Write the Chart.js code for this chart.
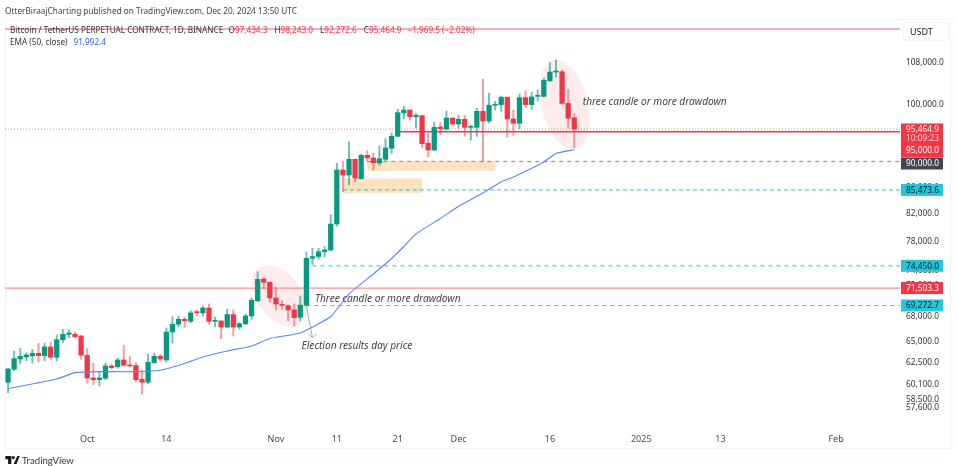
<!DOCTYPE html>
<html>
<head>
<meta charset="utf-8">
<title>BTCUSDT perpetual, 1D</title>
<script src="https://cdn.jsdelivr.net/npm/chart.js@4"></script>
<style>
  html, body { margin: 0; padding: 0; background: #fff; }
  #wrap { position: relative; width: 958px; height: 466px; overflow: hidden; font-family: "Noto Sans", sans-serif; color: #333; }
  #panel { position: absolute; left: 5px; top: 19px; width: 944px; height: 428px; border: 1px solid #f0f3fa; }
  canvas { position: absolute; left: 0; top: 0; }
  .txt { position: absolute; white-space: nowrap; line-height: 12px; }
  #published { left: 5px; top: 5px; font-size: 8.25px; color: #444; }
  #legend1 { left: 10px; top: 24px; font-size: 8.2px; color: #333; }
  #legend2 { left: 10px; top: 36px; font-size: 8.2px; color: #333; }
  #legend1 b { font-weight: normal; color: #f23645; margin-right: 6px; }
  #legend1 i { font-style: normal; margin-left: 1px; }
  #legend2 b { font-weight: normal; color: #2962ff; margin-left: 6px; }
  #unit { position: absolute; left: 903px; top: 22px; width: 44px; height: 17px; border: 1px solid #f0f3fa; border-radius: 3px; font-size: 9px; line-height: 17px; text-indent: 6px; color: #222; }
  #brand { left: 22px; top: 455px; font-size: 9.6px; font-family: Lato, sans-serif; color: #333; }
  #logo { position: absolute; left: 5px; top: 456px; }
</style>
</head>
<body>
<div id="wrap">
  <div id="panel"></div>
  <canvas id="chart" width="958" height="466"></canvas>
  <div class="txt" id="published">OtterBiraajCharting published on TradingView.com, Dec 20, 2024 13:50 UTC</div>
  <div class="txt" id="legend1">Bitcoin / TetherUS PERPETUAL CONTRACT, 1D, BINANCE &nbsp;<i>O</i><b>97,434.3</b><i>H</i><b>98,243.0</b><i>L</i><b>92,272.6</b><i>C</i><b>95,464.9</b><b>−1,969.5 (−2.02%)</b></div>
  <div class="txt" id="legend2">EMA (50, close)<b>91,992.4</b></div>
  <div id="unit">USDT</div>
  <svg id="logo" width="15" height="8" viewBox="0 0 36 20"><path fill="#131722" d="M0 0h15v20H7V8H0zM30 0h6l-8 20h-7zM20 0a4 4 0 1 1 0 8 4 4 0 0 1 0-8z"/></svg>
  <div class="txt" id="brand">TradingView</div>
</div>
<script>
// Daily candles, 18 Sep to 20 Dec 2024, then empty days up to 11 Feb
const categories = [
  "09-18","09-19","09-20","09-21","09-22","09-23","09-24","09-25","09-26","09-27","09-28","09-29","09-30",
  "10-01","10-02","10-03","10-04","10-05","10-06","10-07","10-08","10-09","10-10","10-11","10-12","10-13","10-14","10-15","10-16","10-17","10-18","10-19","10-20","10-21","10-22","10-23","10-24","10-25","10-26","10-27","10-28","10-29","10-30","10-31",
  "11-01","11-02","11-03","11-04","11-05","11-06","11-07","11-08","11-09","11-10","11-11","11-12","11-13","11-14","11-15","11-16","11-17","11-18","11-19","11-20","11-21","11-22","11-23","11-24","11-25","11-26","11-27","11-28","11-29","11-30",
  "12-01","12-02","12-03","12-04","12-05","12-06","12-07","12-08","12-09","12-10","12-11","12-12","12-13","12-14","12-15","12-16","12-17","12-18","12-19","12-20","12-21","12-22","12-23","12-24","12-25","12-26","12-27","12-28","12-29","12-30","12-31",
  "01-01","01-02","01-03","01-04","01-05","01-06","01-07","01-08","01-09","01-10","01-11","01-12","01-13","01-14","01-15","01-16","01-17","01-18","01-19","01-20","01-21","01-22","01-23","01-24","01-25","01-26","01-27","01-28","01-29","01-30","01-31",
  "02-01","02-02","02-03","02-04","02-05","02-06","02-07","02-08","02-09","02-10","02-11"
];

const opens = [
  60250,61690,62855,63085,63200,63510,63235,64240,63050,65095,65740,65740,65540,63280,60720,60530,60690,62060,61980,62740,
  62140,62100,60575,60250,62435,63165,62740,66015,66950,67555,67310,68500,68340,68960,67310,67350,66615,68130,66615,67000,
  67965,69880,72695,72260,70225,69370,69245,68710,67800,69310,75480,75730,76390,76625,80330,88620,87820,90365,87240,91015,
  90580,89755,90365,92190,94220,98310,98835,97650,97830,93040,91905,95825,95480,97410,96350,97180,95770,95770,98600,96880,
  99700,99810,101150,97230,96480,101080,99810,101320,101320,104250,105900,105960,100035,97434.3
];
const highs = [
  61780,63775,64090,63580,63970,64675,64675,64745,65657,66340,66255,66015,65600,64040,62370,61420,62370,62290,62935,64440,
  63120,62435,61610,63395,63510,63400,66495,67880,67960,67800,68620,68710,69210,69460,67805,67380,68800,68710,67140,68180,
  70225,73660,72920,72300,71595,69880,69335,69460,70480,76350,76860,76860,77090,81660,89700,90080,93300,90410,91230,91790,
  91400,92620,93810,94800,98960,99555,98835,98240,97950,94750,96700,96590,98660,97410,97880,97880,96180,99160,104560,101880,
  100430,101390,101200,98835,101770,102365,102050,102495,104700,107700,108240,106290,102620,98243
];
const lows = [
  59120,61530,62290,62660,62370,62515,62660,62820,62660,64745,65335,65335,62820,60140,59955,59845,60500,61690,61800,62060,
  61915,60315,58950,60065,62370,62625,62515,64710,66620,66580,67140,67965,67965,66945,66650,65215,66495,65540,66340,66915,
  67555,69750,71415,69715,68710,68795,67385,66740,67385,69180,74645,75340,75660,76490,80040,85190,86240,86710,87180,90030,
  88620,89380,90130,91340,94150,97230,97055,95610,92350,90800,91790,94530,95305,96000,95590,94220,93590,94220,89970,96530,
  98835,98590,94020,94370,95530,99280,98960,100520,101210,104060,104980,99840,95650,92272.6
];
const closes = [
  61723,62890,63165,63315,63510,63235,64240,63050,65095,65740,65897,65455,63280,60720,60530,60720,62060,61870,62740,62140,
  62060,60530,60250,62480,63165,62855,66015,66950,67555,67385,68340,68375,68960,67310,67435,66615,68130,66615,67020,67965,
  69930,72650,72250,70225,69460,69295,68710,67755,69310,75480,75715,76390,76625,80330,88620,87820,90365,87345,91015,90580,
  89805,90455,92240,94220,98360,98835,97650,97880,92970,91905,95770,95530,97410,96350,97180,95770,95940,98600,96880,99700,
  99810,101150,97230,96480,101080,99810,101210,101450,104320,105900,106095,100035,97370,95464.9
];

// EMA 50 at these days
const emaDates = ["09-18","09-22","09-26","09-29","10-03","10-08","10-13","10-17","10-20","10-24","10-28","10-31","11-05","11-10","11-13","11-17","11-20","11-22","11-24","11-28","12-01","12-05","12-08","12-10","12-15","12-17","12-20"];
const emaValues = [59575,60065,60610,61310,61420,61420,61575,62345,63085,63775,64358,65240,65897,67904,70738,73358,75452,77115,78888,81143,82964,84993,86758,87504,89924,91326,91955];

// Axis labels
const priceTicks = [108000,100000,86000,82000,78000,74000,72000,68000,65000,62500,60100,58500,57600];
const tickDates = ["10-01","10-14","11-01","11-11","11-21","12-01","12-16","12-31","01-13","02-01"];
const tickLabels = ["Oct","14","Nov","11","21","Dec","16","2025","13","Feb"];

const GREEN = "#089981";
const RED = "#f23645";
const CYAN = "#26c6da";

const fmt = v => v.toLocaleString("en-US", { minimumFractionDigits: 1, maximumFractionDigits: 1 });
const dayIndex = d => categories.indexOf(d);
const candleColors = opens.map((o, i) => (closes[i] >= o ? GREEN : RED));
const wickColors = opens.map((o, i) => (closes[i] >= o ? "rgba(8,153,129,.6)" : "rgba(242,54,69,.5)"));

// Horizontal price lines, from null means the left edge of the plot
const levels = [
  { price: 114510, from: null, color: "#f48fb1", width: 1.6, dash: [] },
  { price: 95464.9, from: null, color: "rgba(242,54,69,.6)", width: 1, dash: [1, 2] },
  { price: 95000, from: "11-21", color: RED, width: 1.6, dash: [] },
  { price: 90000, from: "11-16", color: "#9598a1", width: 1.3, dash: [4, 4] },
  { price: 85473.6, from: "11-12", color: CYAN, width: 1, dash: [4, 3] },
  { price: 74450, from: "11-07", color: CYAN, width: 1, dash: [4, 4] },
  { price: 71503.3, from: null, color: "#f88f97", width: 1.2, dash: [] },
  { price: 69272.7, from: "11-06", color: CYAN, width: 1, dash: [4, 4] }
];

// Support zones: first day, last day, top price, bottom price
const zones = [
  ["11-16", "12-07", 90030, 88500],
  ["11-12", "11-25", 87280, 84970]
];

// Drawdown ellipses: centre day, centre price, radii, tilt
const ellipses = [
  { day: 44.6, price: 70480, rx: 35, ry: 22, tilt: 52 },
  { day: 91.4, price: 99830, rx: 46, ry: 23, tilt: 76 }
];

const notes = [
  { text: "Three candle or more drawdown", day: 50.4, price: 70100 },
  { text: "Election results day price", day: 48.2, price: 64360 },
  { text: "three candle or more drawdown", day: 94.4, price: 100290 }
];

const arrow = { from: ["11-06", 69210], to: ["11-07", 65300] };

// Tags on the price scale, shift moves a tag off its level where they would collide
const tags = [
  { price: 90000, bg: "#434651", fg: "#fff", shift: 2 },
  { price: 85473.6, bg: CYAN, fg: "#131722", shift: 0 },
  { price: 74450, bg: CYAN, fg: "#131722", shift: 0 },
  { price: 71503.3, bg: RED, fg: "#fff", shift: 0 },
  { price: 69272.7, bg: CYAN, fg: "#131722", shift: 0 }
];

const overlays = {
  id: "overlays",
  beforeDatasetsDraw(chart) {
    const { ctx, chartArea: a, scales: { x, y } } = chart;
    ctx.save();
    ctx.beginPath();
    ctx.rect(a.left, a.top, a.width, a.height);
    ctx.clip();

    ellipses.forEach(e => {
      ctx.fillStyle = "rgba(242,54,69,.1)";
      ctx.beginPath();
      ctx.ellipse(x.getPixelForValue(e.day), y.getPixelForValue(e.price), e.rx, e.ry, e.tilt * Math.PI / 180, 0, Math.PI * 2);
      ctx.fill();
    });

    zones.forEach(z => {
      const x0 = x.getPixelForValue(dayIndex(z[0]));
      const x1 = x.getPixelForValue(dayIndex(z[1]));
      const y0 = y.getPixelForValue(z[2]);
      const y1 = y.getPixelForValue(z[3]);
      ctx.fillStyle = "#fde2bf";
      ctx.fillRect(x0, y0, x1 - x0, y1 - y0);
    });

    levels.forEach(l => {
      const py = y.getPixelForValue(l.price);
      ctx.strokeStyle = l.color;
      ctx.lineWidth = l.width;
      ctx.setLineDash(l.dash);
      ctx.beginPath();
      ctx.moveTo(l.from ? x.getPixelForValue(dayIndex(l.from)) : a.left, py);
      ctx.lineTo(a.right, py);
      ctx.stroke();
    });
    ctx.setLineDash([]);
    ctx.restore();
  },
  afterDraw(chart) {
    const { ctx, chartArea: a, scales: { x, y } } = chart;
    ctx.save();

    // Election day arrow
    const ax = x.getPixelForValue(dayIndex(arrow.from[0]));
    const ay = y.getPixelForValue(arrow.from[1]);
    const bx = x.getPixelForValue(dayIndex(arrow.to[0]));
    const by = y.getPixelForValue(arrow.to[1]);
    ctx.strokeStyle = "#81c784";
    ctx.lineWidth = 1;
    ctx.beginPath();
    ctx.moveTo(ax, ay);
    ctx.lineTo(bx, by);
    ctx.moveTo(bx - 4, by - 4);
    ctx.lineTo(bx, by);
    ctx.lineTo(bx + 4, by - 4);
    ctx.stroke();

    // Notes
    ctx.font = "italic 10.15px 'Noto Sans'";
    ctx.fillStyle = "#444";
    ctx.textBaseline = "middle";
    ctx.textAlign = "left";
    notes.forEach(n => ctx.fillText(n.text, x.getPixelForValue(n.day), y.getPixelForValue(n.price)));

    // Price tags
    ctx.font = "8.3px 'Noto Sans'";
    const left = a.right + 1;
    const last = y.getPixelForValue(closes[closes.length - 1]);
    ctx.fillStyle = RED;
    ctx.fillRect(left, last - 5.6, 42, 33.8);
    ctx.fillStyle = "#fff";
    ctx.fillText(fmt(closes[closes.length - 1]), left + 5, last + 0.4);
    ctx.fillStyle = "#ffd0d4";
    ctx.fillText("10:09:23", left + 5, last + 10);
    ctx.fillStyle = "#fff";
    ctx.fillText(fmt(95000), left + 5, last + 21.8);

    tags.forEach(t => {
      const py = y.getPixelForValue(t.price) + t.shift;
      ctx.fillStyle = t.bg;
      ctx.fillRect(left, py - 6, 42, 12);
      ctx.fillStyle = t.fg;
      ctx.fillText(fmt(t.price), left + 5, py + 0.4);
    });
    ctx.restore();
  }
};

new Chart(document.getElementById("chart"), {
  type: "bar",
  data: {
    labels: categories,
    datasets: [
      {
        label: "Wicks",
        data: lows.map((l, i) => [l, highs[i]]),
        backgroundColor: wickColors,
        barThickness: 1.3,
        grouped: false,
        order: 3
      },
      {
        label: "Bodies",
        data: opens.map((o, i) => [o, closes[i]]),
        backgroundColor: candleColors,
        barThickness: 4.6,
        minBarLength: 1,
        grouped: false,
        order: 2
      },
      {
        type: "line",
        label: "EMA (50, close)",
        data: emaDates.map((d, i) => ({ x: d, y: emaValues[i] })),
        borderColor: "#5b87f7",
        borderWidth: 1.1,
        pointRadius: 0,
        tension: 0.15,
        order: 1
      }
    ]
  },
  options: {
    responsive: false,
    animation: false,
    layout: { padding: { left: 5, top: 19, right: 8, bottom: 18 } },
    plugins: { legend: { display: false }, tooltip: { enabled: false } },
    scales: {
      x: {
        grid: { display: false, drawTicks: false },
        border: { display: false },
        afterFit: s => { s.height = 20; },
        ticks: {
          autoSkip: false,
          maxRotation: 0,
          padding: 6,
          color: "#4a4a4a",
          font: { family: "Noto Sans", size: 9 },
          callback(v, i) {
            const k = tickDates.indexOf(categories[i]);
            return k < 0 ? null : tickLabels[k];
          }
        }
      },
      y: {
        type: "logarithmic",
        position: "right",
        bounds: "data",
        min: 55440,
        max: 116620,
        grid: { display: false, drawTicks: false },
        border: { display: false },
        afterFit: s => { s.width = 50; },
        afterBuildTicks: s => { s.ticks = priceTicks.map(v => ({ value: v })); },
        ticks: {
          autoSkip: false,
          crossAlign: "near",
          padding: 6,
          labelOffset: 1,
          color: "#333",
          font: { family: "Noto Sans", size: 8.3 },
          callback: v => fmt(v)
        }
      }
    }
  },
  plugins: [overlays]
});
</script>
</body>
</html>
